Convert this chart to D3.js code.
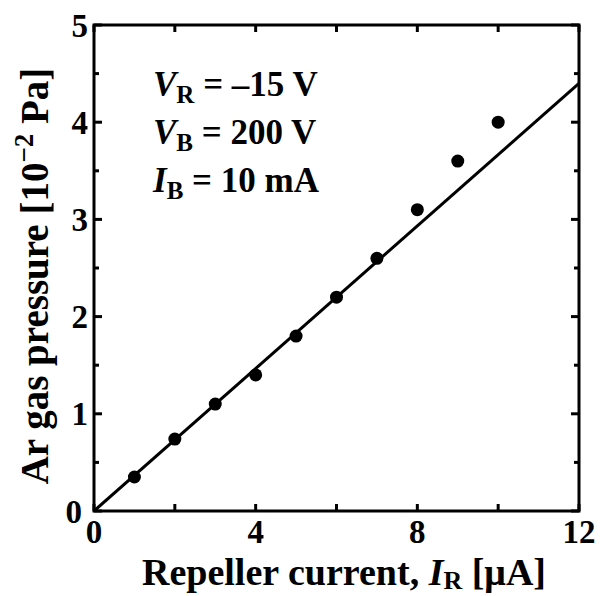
<!DOCTYPE html>
<html>
<head>
<meta charset="utf-8">
<script src="https://cdn.jsdelivr.net/npm/d3@7"></script>
<style>
  body { margin: 0; background: #fff; }
  text { font-family: "Liberation Serif", "Times New Roman", serif; font-weight: bold; }
</style>
</head>
<body>
<svg id="chart" width="600" height="596"></svg>
<script>
// data
const current = [1, 2, 3, 4, 5, 6, 7, 8, 9, 10]
const pressure = [0.35, 0.74, 1.1, 1.4, 1.8, 2.2, 2.6, 3.1, 3.6, 4.0]
const fitLine = [[0, 0], [12, 4.4]]
const xTicks = [0, 2, 4, 6, 8, 10, 12]
const xLabels = [0, 4, 8, 12]
const yTicks = [0, 0.5, 1, 1.5, 2, 2.5, 3, 3.5, 4, 4.5, 5]
const yLabels = [0, 1, 2, 3, 4, 5]

const svg = d3.select('#chart')
const plotL = 94, plotR = 579, plotT = 25, plotB = 511

const x = d3.scaleLinear().domain([0, 12]).range([plotL, plotR])
const y = d3.scaleLinear().domain([0, 5]).range([plotB, plotT])

// ticks, drawn inward on all four sides
const tickG = svg.append('g').attr('stroke', '#000').attr('stroke-width', 3)
for (let t of xTicks) {
    tickG.append('line').attr('x1', x(t)).attr('x2', x(t)).attr('y1', plotB).attr('y2', plotB - 7)
    tickG.append('line').attr('x1', x(t)).attr('x2', x(t)).attr('y1', plotT).attr('y2', plotT + 7)
}
for (let t of yTicks) {
    let len = Number.isInteger(t) ? 8 : 5
    tickG.append('line').attr('x1', plotL).attr('x2', plotL + len).attr('y1', y(t)).attr('y2', y(t))
    tickG.append('line').attr('x1', plotR).attr('x2', plotR - len).attr('y1', y(t)).attr('y2', y(t))
}

// fit line
const line = d3.line().x(d => x(d[0])).y(d => y(d[1]))
svg.append('path')
    .datum(fitLine)
    .attr('d', line)
    .attr('fill', 'none')
    .attr('stroke', '#000')
    .attr('stroke-width', 3)

// frame
svg.append('rect')
    .attr('x', plotL).attr('y', plotT)
    .attr('width', plotR - plotL).attr('height', plotB - plotT)
    .attr('fill', 'none')
    .attr('stroke', '#000')
    .attr('stroke-width', 3)

// points
svg.append('g').selectAll('circle')
    .data(current)
    .join('circle')
    .attr('cx', d => x(d))
    .attr('cy', (d, i) => y(pressure[i]))
    .attr('r', 6.5)
    .attr('fill', '#000')

// tick labels
svg.append('g').selectAll('text')
    .data(xLabels)
    .join('text')
    .attr('x', d => x(d))
    .attr('y', 543)
    .attr('text-anchor', 'middle')
    .attr('font-size', 33)
    .text(d => d)

svg.append('g').selectAll('text')
    .data(yLabels)
    .join('text')
    .attr('x', d => d == 0 ? 82 : 88)
    .attr('y', d => y(d))
    .attr('dy', '0.35em')
    .attr('text-anchor', 'end')
    .attr('font-size', 33)
    .text(d => d)

// axis titles
const xt = svg.append('text')
    .attr('x', 344).attr('y', 585)
    .attr('text-anchor', 'middle')
    .attr('font-size', 38)
xt.append('tspan').text('Repeller current, ')
xt.append('tspan').attr('font-style', 'italic').text('I')
xt.append('tspan').attr('font-size', 26).attr('dy', 4).text('R')
xt.append('tspan').attr('dy', -4).text(' [μA]')

const yt = svg.append('text')
    .attr('transform', 'translate(48,276) rotate(-90)')
    .attr('text-anchor', 'middle')
    .attr('font-size', 39)
yt.append('tspan').text('Ar gas pressure [10')
yt.append('tspan').attr('font-size', 27).attr('dy', -15).text('−2')
yt.append('tspan').attr('dy', 15).text(' Pa]')

// condition labels
const notes = [
    ['V', 'R', ' = –15 V'],
    ['V', 'B', ' = 200 V'],
    ['I', 'B', ' = 10 mA']
]
notes.forEach((n, i) => {
    let t = svg.append('text')
        .attr('x', 153).attr('y', 96 + i * 48)
        .attr('font-size', 35)
    t.append('tspan').attr('font-style', 'italic').text(n[0])
    t.append('tspan').attr('font-size', 25).attr('dy', 7).text(n[1])
    t.append('tspan').attr('dy', -7).text(n[2])
})
</script>
</body>
</html>
